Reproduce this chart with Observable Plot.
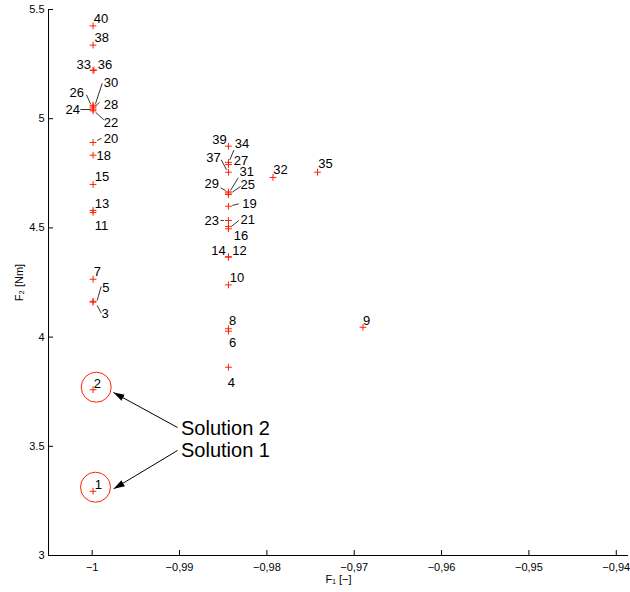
<!DOCTYPE html>
<html><head><meta charset="utf-8">
<script src="https://cdn.jsdelivr.net/npm/d3@7"></script>
<script src="https://cdn.jsdelivr.net/npm/@observablehq/plot@0.6"></script>
<style>body{margin:0;background:#fff;}</style>
</head><body><div id="chart"></div>
<script>
// Solution ids and objective values
const ids = [1,2,3,4,5,6,7,8,9,10,11,12,13,14,15,16,18,19,20,21,22,23,24,25,26,27,28,29,30,31,32,33,34,35,36,37,38,39,40];
const f1 = [-0.9999,-0.9999,-0.9999,-0.9844,-0.9999,-0.9844,-0.9999,-0.9844,-0.9690,-0.9844,-0.9999,-0.9844,-0.9999,-0.9844,-0.9999,-0.9844,-0.9999,-0.9844,-0.9999,-0.9844,-0.9999,-0.9844,-0.9999,-0.9844,-0.9999,-0.9844,-0.9999,-0.9844,-0.9999,-0.9844,-0.9793,-0.9999,-0.9844,-0.9742,-0.9998,-0.9844,-0.9999,-0.9844,-0.9999];
const f2 = [3.294,3.759,4.160,3.862,4.164,4.027,4.265,4.038,4.045,4.239,4.571,4.366,4.580,4.368,4.699,4.496,4.833,4.599,4.891,4.506,5.036,4.534,5.043,4.660,5.058,4.790,5.050,4.653,5.062,4.665,4.731,5.221,4.800,4.755,5.223,4.755,5.337,4.874,5.425];
// annotation anchor of each number label (data units)
const labelF1 = [-0.99970,-0.99982,-0.99893,-0.98447,-0.99885,-0.98435,-0.99982,-0.98435,-0.96900,-0.98424,-0.99970,-0.98396,-0.99970,-0.98637,-0.99970,-0.98378,-0.99951,-0.98282,-0.99867,-0.98301,-0.99867,-0.98714,-1.00306,-0.98301,-1.00260,-0.98378,-0.99867,-0.98714,-0.99867,-0.98313,-0.97927,-1.00180,-0.98367,-0.97411,-0.99936,-0.98694,-0.99974,-0.98625,-0.99982];
const labelF2 = [3.3242,3.7862,4.1044,3.7921,4.2248,3.9753,4.2972,4.0760,4.0760,4.2692,4.5078,4.3942,4.6117,4.3942,4.7353,4.4652,4.8315,4.6108,4.9093,4.5371,4.9812,4.5302,5.0412,4.6950,5.1177,4.8080,5.0636,4.6996,5.1644,4.7560,4.7665,5.2473,4.8830,4.7935,5.2473,4.8223,5.3718,4.9025,5.4588];
// leader lines (data units)
const leaderX1 = [-0.99885,-1.00065,-0.99962,-1.00134,-0.99962,-0.99943,-0.99897,-0.99943,-0.98378,-0.98522,-0.98328,-0.98530,-0.98301,-0.98396,-0.98530,-0.98321];
const leaderY1 = [5.1625,5.1094,5.0572,5.0421,5.0298,4.9002,4.2317,4.1447,4.8560,4.8118,4.7294,4.6836,4.6896,4.6026,4.5339,4.5339];
const leaderX2 = [-0.99962,-1.00019,-0.99916,-1.00019,-0.99867,-0.99893,-0.99943,-0.99897,-0.98424,-0.98462,-0.98416,-0.98473,-0.98396,-0.98321,-0.98493,-0.98408];
const leaderY2 = [5.0682,5.0682,5.0756,5.0421,4.9950,4.9107,4.1676,4.1094,4.8118,4.7660,4.6712,4.6712,4.6635,4.6104,4.5339,4.5064];
// highlighted solutions
const solutionNames = ["Solution 2","Solution 1"];
const solutionX = [-0.98983,-0.98983];
const solutionY = [3.5833,3.4826];
const arrowX1 = [-0.99023,-0.99023];
const arrowY1 = [3.5861,3.4808];
const arrowX2 = [-0.99756,-0.99753];
const arrowY2 = [3.7463,3.3054];
const circleX = [-0.99954,-0.99962];
const circleY = [3.7706,3.3127];
// axes
const xDomain = [-1.005,-0.9386];
const yDomain = [3,5.5];
const xTicks = [-1,-0.99,-0.98,-0.97,-0.96,-0.95,-0.94];
const yTicks = [3,3.5,4,4.5,5,5.5];

const points = ids.map((id,i)=>({id, f1:f1[i], f2:f2[i], lx:labelF1[i], ly:labelF2[i]}));
const leaders = leaderX1.map((d,i)=>({x1:d, y1:leaderY1[i], x2:leaderX2[i], y2:leaderY2[i]}));
const sols = solutionNames.map((n,i)=>({n, x:solutionX[i], y:solutionY[i], ax1:arrowX1[i], ay1:arrowY1[i], ax2:arrowX2[i], ay2:arrowY2[i], cx:circleX[i], cy:circleY[i]}));

const commaFmt = d3.formatLocale({decimal:",", thousands:".", grouping:[3], currency:["",""], minus:"\u2212"}).format("");
const plusSymbol = {draw(ctx, size){ const r = Math.sqrt(size/Math.PI); ctx.moveTo(-r,0); ctx.lineTo(r,0); ctx.moveTo(0,-r); ctx.lineTo(0,r); }};
function filledArrow(color){
  const el = d3.create("svg:marker")
    .attr("viewBox","-11 -4 12 8")
    .attr("markerWidth",12).attr("markerHeight",8)
    .attr("markerUnits","userSpaceOnUse")
    .attr("orient","auto")
    .call(m=>m.append("path").attr("d","M0,0L-11,-3.5L-11,3.5Z").attr("fill",color).attr("stroke","none"))
    .node();
  el.node = () => el;
  return el;
}

const chart = Plot.plot({
  width: 630, height: 592,
  marginLeft: 48, marginRight: 2, marginTop: 9, marginBottom: 37,
  style: {fontFamily: "'Liberation Sans', Arial, sans-serif", fontSize: "11px", background: "white", color: "black"},
  x: {domain: xDomain},
  y: {domain: yDomain},
  marks: [
    Plot.ruleX([xDomain[0]], {stroke: "black"}),
    Plot.ruleY([yDomain[0]], {stroke: "black"}),
    Plot.axisX({ticks: xTicks, tickFormat: commaFmt, tickSize: -5, tickPadding: 13, label: "F\u2081 [\u2212]", labelArrow: "none", labelAnchor: "center", labelOffset: 27}),
    Plot.axisY({ticks: yTicks, tickFormat: d => String(d), tickSize: -5, tickPadding: 9, label: "F\u2082 [Nm]", labelArrow: "none", labelAnchor: "center", labelOffset: 33}),
    Plot.link(leaders, {x1:"x1", y1:"y1", x2:"x2", y2:"y2", stroke:"black", strokeWidth: 0.8}),
    Plot.dot(points, {x:"f1", y:"f2", symbol: plusSymbol, r: 3.4, stroke: "#ff2200", fill: "none", strokeWidth: 1}),
    Plot.text(points, {x:"lx", y:"ly", text: d => String(d.id), textAnchor: "start", fontSize: 13, fill: "black"}),
    Plot.dot(sols, {x:"cx", y:"cy", r: 15, stroke: "#ff2200", fill: "none", strokeWidth: 1}),
    Plot.link(sols, {x1:"ax1", y1:"ay1", x2:"ax2", y2:"ay2", stroke:"black", strokeWidth: 1, markerEnd: filledArrow}),
    Plot.text(sols, {x:"x", y:"y", text:"n", textAnchor:"start", fontSize: 20, fill:"black", fontFamily: "'Liberation Sans Narrow', 'Liberation Sans', sans-serif"})
  ]
});
document.getElementById("chart").append(chart);
</script>
</body></html>
